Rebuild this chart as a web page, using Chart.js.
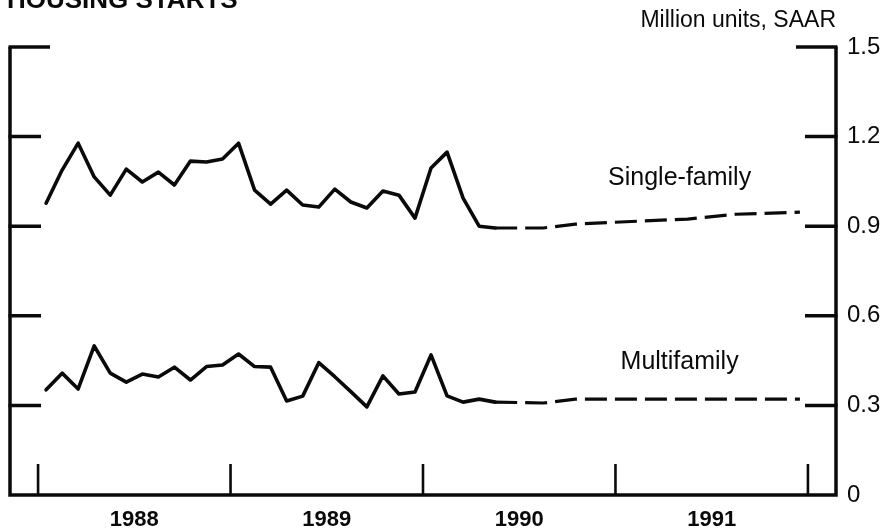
<!DOCTYPE html>
<html>
<head>
<meta charset="utf-8">
<script src="https://cdn.jsdelivr.net/npm/chart.js@4/dist/chart.umd.min.js"></script>
<style>
  html, body { margin: 0; padding: 0; background: #fff; }
  canvas { display: block; }
</style>
</head>
<body>
<canvas id="c" width="888" height="528"></canvas>
<script>
// Housing starts, monthly actuals Jan 1988 - May 1990, then projection (dashed)
const FONT = '"Liberation Sans", Arial, Helvetica, sans-serif';
const INK = "#0a0a0a";

// month index: 0 = Jan 1988; points sit mid-month
const actualMonths = [0,1,2,3,4,5,6,7,8,9,10,11,12,13,14,15,16,17,18,19,20,21,22,23,24,25,26,27,28];
const singleFamily = [0.977, 1.088, 1.178, 1.065, 1.004, 1.091, 1.048, 1.081, 1.038, 1.118, 1.115, 1.125,
                      1.178, 1.021, 0.974, 1.021, 0.971, 0.964, 1.024, 0.981, 0.961, 1.018, 1.004, 0.927,
                      1.095, 1.148, 0.994, 0.900, 0.894];
const multiFamily  = [0.352, 0.408, 0.355, 0.499, 0.408, 0.378, 0.405, 0.395, 0.428, 0.385, 0.430, 0.435,
                      0.472, 0.430, 0.428, 0.315, 0.331, 0.443, 0.396, 0.346, 0.295, 0.399, 0.338, 0.345,
                      0.469, 0.332, 0.311, 0.321, 0.311];

const forecastMonths = [28, 31, 33, 37, 40, 43, 47];
const singleForecast = [0.894, 0.894, 0.907, 0.917, 0.924, 0.940, 0.947];
const multiForecast  = [0.311, 0.308, 0.321, 0.321, 0.321, 0.321, 0.321];

const yearLabels = ["1988", "1989", "1990", "1991"];
const yearStarts = [0, 12, 24, 36, 48];
const yTicks = [0, 0.3, 0.6, 0.9, 1.2, 1.5];

const pts = (ms, vs) => ms.map((m, i) => ({ x: m + 0.5, y: vs[i] }));

const solid = { borderColor: INK, borderWidth: 3.6, pointRadius: 0, tension: 0, fill: false,
                borderJoinStyle: "round", borderCapStyle: "round" };
const dashed = { borderColor: INK, borderWidth: 3.2, pointRadius: 0, tension: 0, fill: false,
                 borderDash: [22, 8] };

// frame, inward ticks and text labels
const frame = {
  id: "frame",
  afterDraw(chart) {
    const { ctx, chartArea: a, scales: { x, y } } = chart;
    ctx.save();
    ctx.strokeStyle = INK;
    ctx.lineCap = "butt";
    ctx.lineWidth = 3.5;
    ctx.beginPath();
    ctx.moveTo(a.left, a.top); ctx.lineTo(a.left, a.bottom); ctx.lineTo(a.right, a.bottom); ctx.lineTo(a.right, a.top);
    ctx.stroke();
    yTicks.forEach(v => {
      if (v === 0) return;
      const py = y.getPixelForValue(v);
      const len = v === 1.5 ? 40 : 31;
      ctx.beginPath();
      ctx.moveTo(a.left - 1.5, py); ctx.lineTo(a.left + len, py);
      ctx.moveTo(a.right + 1.5, py); ctx.lineTo(a.right - len, py);
      ctx.stroke();
    });
    ctx.lineWidth = 2.6;
    yearStarts.forEach(m => {
      const px = x.getPixelForValue(m);
      ctx.beginPath();
      ctx.moveTo(px, a.bottom); ctx.lineTo(px, a.bottom - 31);
      ctx.stroke();
    });

    ctx.fillStyle = INK;
    ctx.textBaseline = "alphabetic";
    ctx.font = `bold 26px ${FONT}`;
    ctx.textAlign = "left";
    ctx.fillText("HOUSING STARTS", 7, 8);
    ctx.font = `23px ${FONT}`;
    ctx.textAlign = "right";
    ctx.fillText("Million units, SAAR", 836, 27);
    ctx.font = `25px ${FONT}`;
    ctx.textAlign = "center";
    ctx.fillText("Single-family", x.getPixelForValue(40), y.getPixelForValue(1.038));
    ctx.fillText("Multifamily", x.getPixelForValue(40), y.getPixelForValue(0.422));
    ctx.restore();
  }
};

new Chart(document.getElementById("c"), {
  type: "line",
  data: {
    datasets: [
      { ...solid, data: pts(actualMonths, singleFamily) },
      { ...dashed, data: pts(forecastMonths, singleForecast) },
      { ...solid, data: pts(actualMonths, multiFamily) },
      { ...dashed, data: pts(forecastMonths, multiForecast) },
    ]
  },
  options: {
    responsive: false,
    animation: false,
    devicePixelRatio: 1,
    layout: { padding: { left: 10, top: 47, right: 0, bottom: 0 } },
    plugins: { legend: { display: false }, tooltip: { enabled: false } },
    scales: {
      x: {
        type: "linear", min: -1.75, max: 49.75,
        grid: { display: false, drawTicks: false }, border: { display: false },
        afterBuildTicks: s => { s.ticks = [6, 18, 30, 42].map(v => ({ value: v })); },
        afterFit: s => { s.height = 33; },
        ticks: {
          autoSkip: false, maxRotation: 0, padding: 12, color: INK,
          font: { family: FONT, size: 22, weight: "bold" },
          callback: (v) => yearLabels[[6, 18, 30, 42].indexOf(v)] ?? ""
        }
      },
      y: {
        position: "right", min: 0, max: 1.5,
        grid: { display: false, drawTicks: false }, border: { display: false },
        afterBuildTicks: s => { s.ticks = yTicks.map(v => ({ value: v })); },
        afterFit: s => { s.width = 52; },
        ticks: {
          padding: 11, color: INK,
          font: { family: FONT, size: 24 },
          callback: v => v === 0 ? "0" : v.toFixed(1)
        }
      }
    }
  },
  plugins: [frame]
});
</script>
</body>
</html>
